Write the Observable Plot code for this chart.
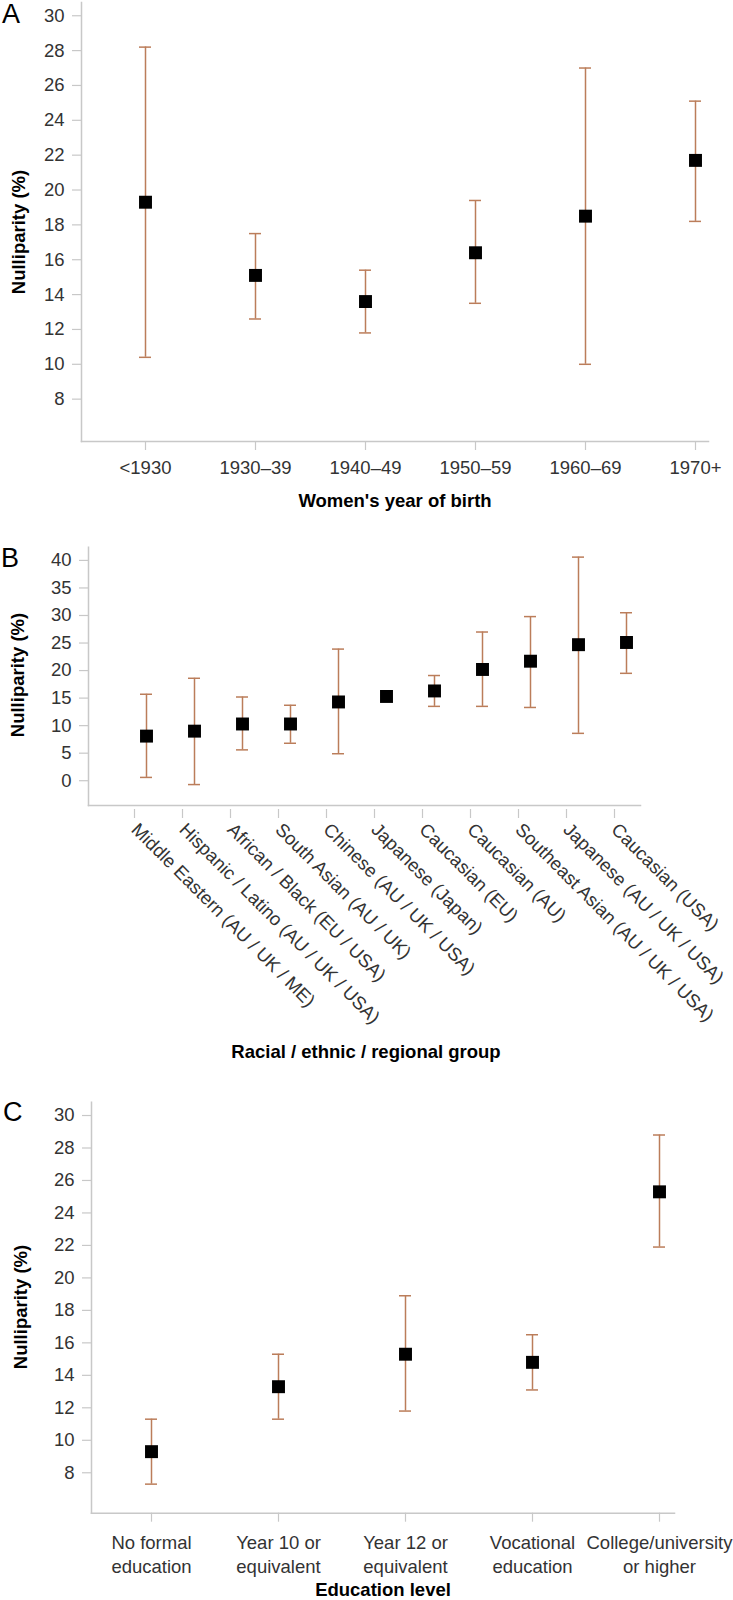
<!DOCTYPE html>
<html><head><meta charset="utf-8">
<script src="https://cdn.jsdelivr.net/npm/d3@7"></script>
<script src="https://cdn.jsdelivr.net/npm/@observablehq/plot@0.6"></script>
<style>
body{margin:0;background:#fff;}
#wrap{position:relative;width:733px;height:1600px;font-family:"Liberation Sans",Arial,sans-serif;overflow:hidden;background:#fff}
#wrap svg{position:absolute;left:0}
.lt{position:absolute;font-size:27px;line-height:0.9;color:#000}
.xt{position:absolute;font-weight:bold;font-size:18.5px;line-height:1;transform:translate(-50%,-50%);white-space:nowrap;color:#000}
.yt{position:absolute;font-weight:bold;font-size:18.5px;line-height:1;transform:translate(-50%,-50%) rotate(-90deg);white-space:nowrap;color:#000}
</style></head><body><div id="wrap"></div><script>
// ---- Panel A: women's year of birth ----
const birthCats = ["<1930", "1930–39", "1940–49", "1950–59", "1960–69", "1970+"];
const birthMean = [19.3, 15.1, 13.6, 16.4, 18.5, 21.7];
const birthLow  = [10.4, 12.6, 11.8, 13.5, 10.0, 18.2];
const birthHigh = [28.2, 17.5, 15.4, 19.4, 27.0, 25.1];
const birthTicks = [8, 10, 12, 14, 16, 18, 20, 22, 24, 26, 28, 30];

// ---- Panel B: racial / ethnic / regional group ----
const groupCats = ["Middle Eastern (AU / UK / ME)", "Hispanic / Latino (AU / UK / USA)", "African / Black (EU / USA)",
  "South Asian (AU / UK)", "Chinese (AU / UK / USA)", "Japanese (Japan)", "Caucasian (EU)", "Caucasian (AU)",
  "Southeast Asian (AU / UK / USA)", "Japanese (AU / UK / USA)", "Caucasian (USA)"];
const groupMean = [8.1, 9.0, 10.3, 10.3, 14.3, 15.3, 16.3, 20.2, 21.7, 24.7, 25.1];
const groupLow  = [0.6, -0.7, 5.6, 6.8, 4.9, null, 13.5, 13.5, 13.3, 8.6, 19.5];
const groupHigh = [15.7, 18.6, 15.2, 13.7, 23.9, null, 19.1, 27.0, 29.8, 40.6, 30.5];
const groupTicks = [0, 5, 10, 15, 20, 25, 30, 35, 40];

// ---- Panel C: education level ----
const eduCats = ["No formal education", "Year 10 or equivalent", "Year 12 or equivalent", "Vocational education", "College/university or higher"];
const eduTickLabels = ["No formal\neducation", "Year 10 or\nequivalent", "Year 12 or\nequivalent", "Vocational\neducation", "College/university\nor higher"];
const eduMean = [9.3, 13.3, 15.3, 14.8, 25.3];
const eduLow  = [7.3, 11.3, 11.8, 13.1, 21.9];
const eduHigh = [11.3, 15.3, 18.9, 16.5, 28.8];
const eduTicks = [8, 10, 12, 14, 16, 18, 20, 22, 24, 26, 28, 30];

const FONT = '"Liberation Sans", Arial, sans-serif';
const AXIS = "#c8c8c8";
const TXT = "#333333";
const BAR = "#bb7d5a";
const CAP = 12;

const wrap = document.getElementById("wrap");

function panel(o) {
  const rows = o.cats.map((c, i) => ({c, m: o.mean[i], lo: o.low[i], hi: o.high[i]}));
  const bars = rows.filter(d => d.lo != null && d.hi != null);
  const step = (o.xCenters[1] - o.xCenters[0]) / (o.cats.length - 1);
  const svg = Plot.plot({
    width: 733, height: o.height,
    marginTop: o.marginTop, marginBottom: o.marginBottom, marginLeft: o.marginLeft, marginRight: o.marginRight,
    style: {fontFamily: FONT, fontSize: "18.5px", background: "transparent", overflow: "visible"},
    x: {type: "band", domain: o.cats, range: [o.xCenters[0] - CAP / 2, o.xCenters[1] + CAP / 2],
        paddingInner: 1 - CAP / step, paddingOuter: 0, align: 0.5},
    y: {domain: o.yDomain},
    marks: [
      Plot.frame({anchor: "left", stroke: AXIS, strokeWidth: 1.5}),
      Plot.frame({anchor: "bottom", stroke: AXIS, strokeWidth: 1.5}),
      Plot.axisY({ticks: o.yTicks, tickSize: 9, tickPadding: 8, stroke: AXIS, fill: TXT, label: null, strokeWidth: 1.2}),
      Plot.axisX({tickSize: 9, tickPadding: o.tickPadX, stroke: AXIS, fill: TXT, label: null, strokeWidth: 1.2,
        tickRotate: o.tickRotate || 0, tickFormat: o.tickFormat, lineHeight: o.lineHeight || 1,
        dx: o.labelDx || 0, dy: o.labelDy || 0}),
      Plot.ruleX(bars, {x: "c", y1: "lo", y2: "hi", stroke: BAR, strokeWidth: 1.5}),
      Plot.tickY(bars, {x: "c", y: "lo", stroke: BAR, strokeWidth: 1.5}),
      Plot.tickY(bars, {x: "c", y: "hi", stroke: BAR, strokeWidth: 1.5}),
      Plot.dot(rows, {x: "c", y: "m", symbol: "square", r: 7.3, fill: "#000", stroke: "none"})
    ]
  });
  svg.style.top = o.top + "px";
  wrap.appendChild(svg);
}

panel({cats: birthCats, mean: birthMean, low: birthLow, high: birthHigh, yTicks: birthTicks,
  top: 0, height: 530, marginTop: 2, marginBottom: 89, marginLeft: 81, marginRight: 25,
  yDomain: [5.57, 30.76], xCenters: [144, 696], tickPadX: 10});

panel({cats: groupCats, mean: groupMean, low: groupLow, high: groupHigh, yTicks: groupTicks,
  top: 530, height: 540, marginTop: 16.7, marginBottom: 265, marginLeft: 88, marginRight: 93,
  yDomain: [-4.5, 42.4], xCenters: [143.3, 629], tickPadX: 8, tickRotate: 45, labelDx: -12, labelDy: 4});

panel({cats: eduCats, mean: eduMean, low: eduLow, high: eduHigh, yTicks: eduTicks,
  top: 1070, height: 530, marginTop: 31.7, marginBottom: 87.3, marginLeft: 91, marginRight: 59,
  yDomain: [5.51, 30.82], xCenters: [149.3, 661], tickPadX: 9.5, lineHeight: 1.3,
  tickFormat: d => eduTickLabels[eduCats.indexOf(d)]});

function html(cls, text, x, y) {
  const el = document.createElement("div");
  el.className = cls; el.textContent = text;
  el.style.left = x + "px"; el.style.top = y + "px";
  wrap.appendChild(el);
}
html("lt", "A", 2, 1.5);
html("lt", "B", 1, 546);
html("lt", "C", 3, 1099.5);
html("xt", "Women's year of birth", 395, 501);
html("xt", "Racial / ethnic / regional group", 366, 1052);
html("xt", "Education level", 383, 1589.5);
html("yt", "Nulliparity (%)", 19, 232);
html("yt", "Nulliparity (%)", 18, 675);
html("yt", "Nulliparity (%)", 21, 1307);
</script></body></html>
